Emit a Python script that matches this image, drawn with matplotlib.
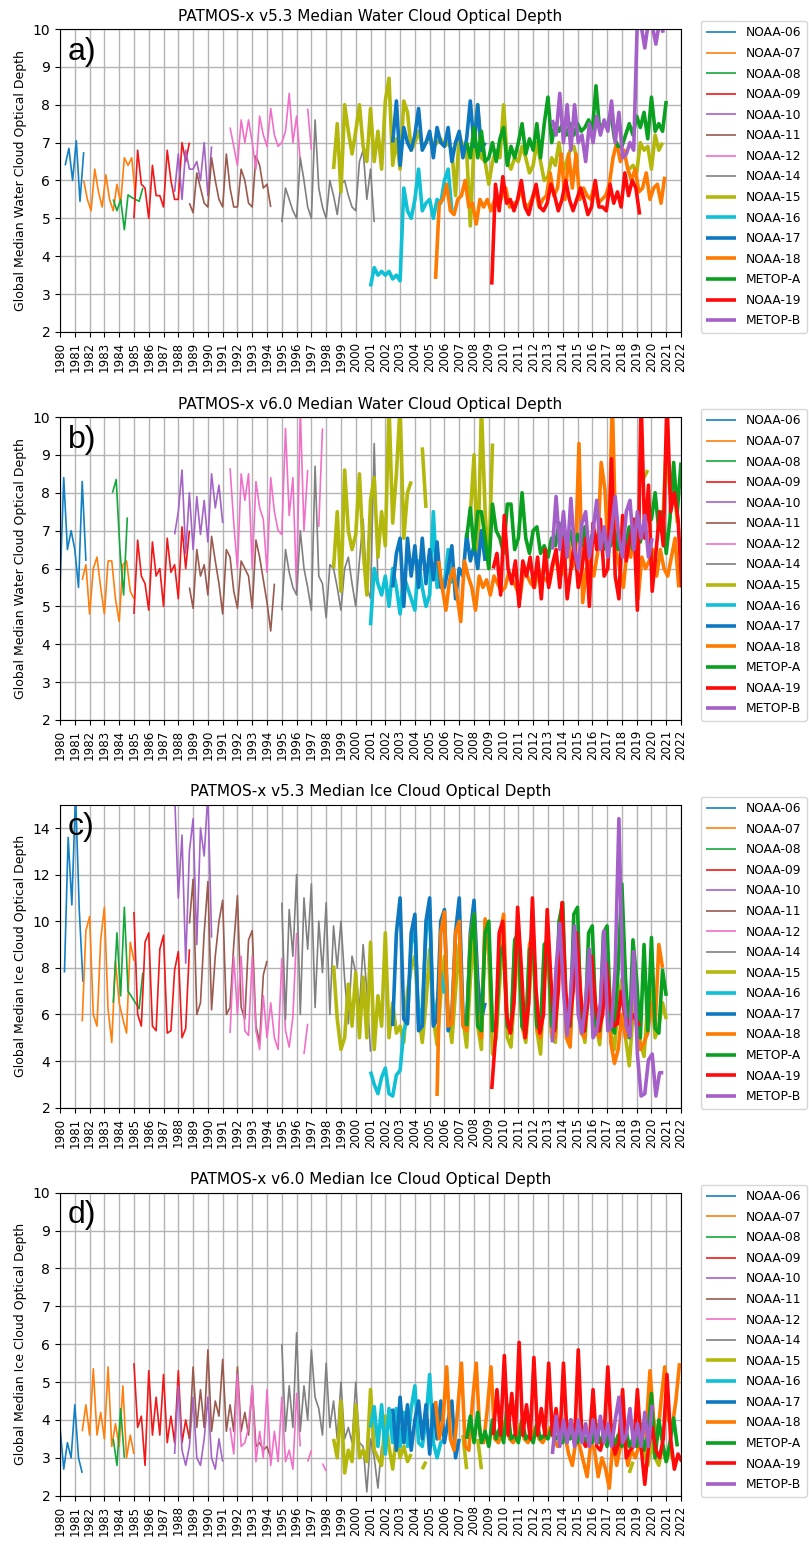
import numpy as np
import matplotlib
matplotlib.use("Agg")
import matplotlib.pyplot as plt

NaN = np.nan
STEP = 0.25  # quarterly samples (years)

SATELLITES = ["NOAA-06", "NOAA-07", "NOAA-08", "NOAA-09", "NOAA-10", "NOAA-11",
              "NOAA-12", "NOAA-14", "NOAA-15", "NOAA-16", "NOAA-17", "NOAA-18",
              "METOP-A", "NOAA-19", "METOP-B"]
YEARS = list(range(1980, 2023))
TITLES = ["PATMOS-x v5.3 Median Water Cloud Optical Depth",
          "PATMOS-x v6.0 Median Water Cloud Optical Depth",
          "PATMOS-x v5.3 Median Ice Cloud Optical Depth",
          "PATMOS-x v6.0 Median Ice Cloud Optical Depth"]
YLABELS = ["Global Median Water Cloud Optical Depth",
           "Global Median Water Cloud Optical Depth",
           "Global Median Ice Cloud Optical Depth",
           "Global Median Ice Cloud Optical Depth"]
TAGS = ["a)", "b)", "c)", "d)"]

# ---------------- panel a : v5.3 water ----------------
A_START = [1980.35, 1981.6, 1983.6, 1985.0, 1987.75, 1988.75, 1991.5, 1995.0,
           1998.5, 2001.0, 2002.5, 2005.4, 2007.5, 2009.2, 2013.3]
A_N06 = [6.4, 6.85, 6.0, 7.05, 5.45, 6.75]
A_N07 = [6.0, 5.5, 5.2, 6.3, 5.7, 5.3, 6.15, 5.5, 5.2, 5.9, 5.4, 6.6, 6.4, 6.6, 5.6]
A_N08 = [5.5, 5.2, 5.5, 4.7, 5.62, 5.55, 5.5, 5.45, 5.8]
A_N09 = [5.0, 6.8, 5.9, 5.8, 5.0, 6.4, 5.6, 5.6, 5.3, 6.8, 6.0, 5.5, 5.5, 7.0, 6.5, 7.0]
A_N10 = [5.7, 6.7, 5.5, 6.8, 6.3, 6.3, 6.5, 6.0, 7.0, 5.6, 6.9]
A_N11 = [5.4, 5.15, 6.2, 5.8, 5.4, 5.3, 6.6, 6.0, 5.5, 5.3, 6.7, 5.8, 5.3, 5.3, 6.3,
         6.0, 5.4, 5.3, 6.65, 6.4, 5.8, 5.9, 5.3]
A_N12 = [7.4, 6.9, 6.4, 7.6, 7.0, 7.6, 7.0, 6.3, 7.7, 7.2, 6.9, 7.9, 7.2, 6.9, 7.0,
         7.3, 8.3, 7.0, 7.7, 6.5, NaN, 7.9, 6.8]
A_N14 = [4.9, 5.8, 5.5, 5.2, 5.0, 6.6, 6.0, 5.3, 5.0, 7.6, 5.8, 5.3, 5.0, 6.0, 5.6,
         5.1, 5.9, 6.0, 5.6, 5.3, 5.2, 6.5, 6.8, 5.5, 6.3, 4.9]
A_N15 = ([6.3, 7.5,
          5.7, 8.0, 7.3, 6.7,  7.3, 8.0, 6.9, 6.5,  7.9, 6.5, 7.3, 6.3,
          8.1, 8.7, 6.4, 7.1,  6.3, 8.1, 7.8, 6.8,  7.0, 7.3, 6.9, 7.0,
          7.2, 6.9, 7.0, 7.1,  6.9, 7.0, 6.8, 5.6,  7.2, 6.9, 6.8, 4.8,
          7.0, 8.0, 6.6, 6.5,  5.9, 6.5, 6.8, 6.6,  8.0, 6.5, 6.3, 6.6,
          6.5, 6.9, 6.6, 6.2,  6.4, 7.0, 6.5, 6.0,  6.1, 6.6, 6.4, 7.0,
          6.2, 6.5, 6.8, 6.9,  6.5]
         + [NaN] * 13 +
         [6.3, 6.4,  6.2, 7.0, 6.8, 6.9,  6.3, 7.2, 6.8, 7.0])
A_N16 = [3.2, 3.7, 3.5, 3.6, 3.5, 3.6, 3.4, 3.5, 3.35, 5.8, 5.2, 5.0, 5.5, 6.3, 5.2,
         5.4, 5.5, 5.0, 5.5, 5.4, 6.0, 6.3, 5.2]
A_N17 = [7.0, 8.1, 6.4, 7.4, 7.0, 6.8, 7.2, 7.9, 6.8, 7.0, 7.3, 6.6, 7.4, 7.0, 6.9,
         7.4, 6.5, 7.0, 7.3, 6.6, 7.1, 8.1, 6.9, 8.0, 6.8, 7.0]
A_N18 = [3.4, 5.4, 5.5, 5.9, 5.2, 5.1, 5.5, 5.6, 6.0, 5.3, 5.4, 4.85, 5.5, 5.3, 5.5,
         5.2, 5.5, 5.3, 5.6, 5.8, 5.3, 5.4, 5.4, 5.8, 5.4, 5.3, 5.5, 5.8, 5.3, 5.5,
         5.6, 6.2, 5.6, 5.8, 6.7, 5.5, 6.7, 5.8, 6.7, 5.5, 5.8, 5.6, 5.5, 5.9, 5.4,
         5.5, 5.6, 5.9, 6.6, 7.0, 6.5, 6.8, 6.3, 6.0, 6.3, 5.7, 5.8, 6.2, 5.5, 5.8,
         5.9, 5.4, 6.1]
A_MA = [7.0, 6.6, 7.4, 6.6, 7.3, 6.5, 6.6, 7.0, 6.5, 7.1, 7.4, 6.4, 6.9, 6.6, 7.0,
        7.5, 6.7, 7.1, 6.8, 7.5, 6.6, 7.5, 8.2, 7.0, 7.5, 7.3, 7.5, 7.2, 7.5, 7.2,
        7.5, 7.3, 7.4, 7.6, 7.3, 8.5, 7.3, 7.5, 7.4, 7.8, 7.1, 6.9, 6.9, 7.2, 7.5,
        7.2, 7.7, 7.4, 7.8, 7.1, 8.2, 7.3, 7.5, 7.3, 8.1]
A_N19 = [3.25, 5.9, 5.2, 6.1, 5.4, 5.5, 5.2, 5.5, 6.0, 5.3, 5.1, 5.5, 5.9, 5.3, 5.2,
         5.4, 5.9, 5.6, 5.2, 5.5, 6.0, 5.5, 5.2, 5.5, 5.8, 5.5, 5.1, 5.3, 6.0, 5.3,
         5.3, 5.2, 5.9, 5.4, 5.7, 5.3, 6.2, 5.6, 6.0, 5.8, 5.1]
A_MB = [7.6, 7.2, 8.3, 7.0, 8.0, 6.8, 8.0, 7.0, 7.2, 6.5, 7.5, 7.0, 7.7, 7.2, 7.6,
        7.3, 8.1, 7.0, 7.8, 6.6, 6.7, 7.0, 6.8, 10.3, 10.1, 9.5, 10.2, 10.1, 9.6,
        10.2, 9.9]

# ---------------- panel b : v6.0 water ----------------
B_START = [1980.0, 1981.5, 1983.55, 1985.0, 1987.75, 1988.75, 1991.5, 1995.0,
           1998.5, 2001.0, 2002.5, 2005.6, 2007.5, 2009.3, 2013.3]
B_N06 = [5.5, 8.4, 6.5, 7.0, 6.5, 5.5, 8.3, 6.2]
B_N07 = [5.7, 6.1, 4.8, 6.0, 6.3, 5.5, 4.8, 6.2, 6.2, 5.2, 4.6, 6.1, 6.2, 5.4, 5.2]
B_N08 = [8.0, 8.35, 6.5, 5.3, 7.35]
B_N09 = [4.8, 6.75, 5.8, 5.6, 4.9, 6.7, 5.8, 6.0, 5.0, 6.8, 5.9, 6.1, 5.2, 7.1, 6.0, 7.0]
B_N10 = [6.9, 7.5, 8.6, 6.4, 8.0, 6.5, 7.9, 6.9, 7.8, 6.7, 8.5, 7.6, 8.2, 7.2]
B_N11 = [5.5, 4.95, 6.5, 5.8, 6.1, 5.3, 6.85, 6.2, 5.6, 4.8, 6.5, 6.3, 5.4, 4.95, 6.2,
         6.0, 5.8, 4.95, 6.75, 6.3, 5.7, 5.1, 4.35, 5.6]
B_N12 = [8.65, 7.2, 6.0, 8.5, 7.8, 8.5, 6.0, 8.3, 7.6, 7.3, 5.9, 8.4, 7.5, 7.0, 6.9,
         9.7, 7.4, 8.4, 5.4, 10.2, 7.0, 8.6, NaN, NaN, 7.1, 9.7]
B_N14 = [4.9, 6.5, 5.9, 5.5, 5.3, 7.0, 6.0, 5.5, 4.9, 8.7, 5.8, 5.6, 4.7, 6.1, 6.0,
         5.5, 4.9, 6.0, 6.3, 5.6, 5.0, 6.2, 7.3, 5.5, 5.2, 9.3, 5.6]
B_N15 = ([6.0, 7.5,
          5.4, 8.6, 7.0, 6.5,  6.9, 8.5, 6.5, 5.3,  7.8, 8.4, 6.3, 7.5,
          6.6, 10.3, 7.2, 8.5,  10.3, 6.8, 8.0, 8.3,  NaN, NaN, 9.2, 7.6]
         + [NaN] * 11 +
         [7.4,  9.0, 6.0, 10.3, 7.5,  6.0, 9.3]
         + [NaN] * 40 +
         [8.4, 8.6,  NaN, NaN, NaN, 7.0,  9.3, 8.0, 8.3, 7.2])
B_N16 = [4.5, 6.0, 5.6, 5.3, 5.8, 5.0, 6.0, 5.5, 4.8, 5.8, 5.5, 5.2, 4.9, 6.2, 5.5,
         5.0, 5.3, 7.5, 5.5, 5.7, 5.6, 6.5, 5.6]
B_N17 = [5.5, 6.4, 6.8, 5.0, 6.8, 5.8, 6.6, 5.5, 6.8, 5.6, 6.5, 5.7, 6.7, 5.5, 5.5,
         6.0, 6.6, 5.2, 6.0, 5.8, 6.9, 6.2, 6.6, 6.0, 7.0, 6.2]
B_N18 = [6.2, 5.5, 4.9, 5.7, 6.0, 5.3, 4.6, 6.2, 5.8, 5.5, 4.9, 5.8, 5.5, 5.7, 5.3,
         5.8, 5.6, 5.4, 5.5, 5.9, 5.7, 5.5, 5.2, 5.9, 5.8, 5.6, 5.5, 6.0, 5.8, 5.7,
         5.6, 6.1, 6.2, 5.8, 6.0, 6.9, 6.0, 6.2, 9.3, 5.1, 6.0, 6.2, 5.8, 6.4, 8.8,
         8.1, 6.3, 10.5, 6.5, 6.0, 5.5, 6.5, 6.3, 7.3, 5.2, 6.3, 6.0, 6.2, 6.5, 5.8,
         6.5, 6.0, 5.8, 6.3, 6.8, 5.5]
B_MA = [6.8, 7.6, 6.5, 7.5, 7.5, 6.8, 6.0, 7.7, 7.0, 6.8, 6.4, 7.7, 7.7, 6.5, 6.8,
        8.0, 6.8, 6.4, 7.0, 7.1, 6.4, 6.6, 6.3, 6.8, 6.6, 7.2, 6.8, 6.6, 7.0, 6.5,
        6.9, 6.6, 7.1, 6.5, 6.9, 6.7, 7.0, 6.5, 6.8, 6.6, 7.0, 6.5, 6.9, 6.6, 7.1,
        6.5, 7.0, 6.7, 7.2, 7.5, 7.3, 8.0, 7.0, 7.5, 6.4, 7.3, 8.8, 7.5, 8.8]
B_N19 = [6.0, 6.4, 5.3, 7.4, 6.0, 5.6, 6.2, 5.0, 6.2, 5.8, 6.3, 5.5, 6.3, 5.2, 6.5,
         5.5, 6.1, 6.5, 5.5, 6.8, 5.2, 6.0, 6.7, 5.5, 6.0, 6.8, 5.0, 7.2, 6.5, 7.3,
         5.8, 6.0, 8.9, 5.8, 5.2, 7.4, 6.2, 6.8, 7.3, 4.9, 10.5, 6.8, 8.2, 5.4, 6.4,
         7.5, 6.6, 10.5, 7.5, 8.0, 7.3, 5.5]
B_MB = [6.5, 7.9, 6.5, 7.5, 6.3, 7.85, 6.5, 6.0, 7.2, 7.5, 6.3, 7.0, 7.8, 6.5, 7.1,
        6.3, 7.0, 7.9, 6.8, 6.3, 7.5, 7.8, 6.5, 7.5, 6.8, 7.4, 6.3, 6.8]

# ---------------- panel c : v5.3 ice ----------------
C_START = [1980.3, 1981.5, 1983.6, 1985.0, 1987.75, 1988.75, 1991.5, 1995.0,
           1998.5, 2001.0, 2002.5, 2005.5, 2007.5, 2009.2, 2013.3]
C_N06 = [7.8, 13.6, 10.7, 15.5, 10.5, 7.4]
C_N07 = [5.7, 9.6, 10.2, 6.0, 5.5, 9.2, 10.6, 6.2, 4.8, 8.3, 6.5, 5.8, 5.2, 9.1, 8.3]
C_N08 = [6.5, 9.5, 6.8, 10.6, 7.0, 6.75, 6.5, 6.25, 7.8]
C_N09 = [10.4, 6.0, 5.5, 9.1, 9.5, 5.5, 5.3, 8.8, 9.4, 5.2, 5.3, 7.9, 8.7, 5.0, 5.4, 8.8]
C_N10 = [15.5, 11.0, 13.7, 8.2, 13.0, 14.4, 9.0, 14.0, 12.8, 15.5, 9.3]
C_N11 = [9.9, 11.8, 6.0, 6.5, 9.5, 11.7, 6.2, 8.5, 10.0, 10.9, 6.0, 6.3, 9.0, 11.1,
         6.3, 5.8, 9.2, 9.6, 5.5, 4.8, 7.7, 8.3]
C_N12 = [5.2, 8.5, 6.0, 8.5, 5.3, 5.1, 8.5, 5.3, 4.5, 6.8, 5.0, 6.5, 5.0, 4.5, 8.4,
         5.3, 4.6, 5.9, 9.5, NaN, 4.3, 5.6]
C_N14 = [10.8, 5.8, 10.5, 8.5, 12.0, 6.0, 11.0, 8.8, 11.6, 6.3, 10.0, 7.8, 10.8, 6.0,
         9.8, 8.0, 10.0, 7.5, 5.6, 8.5, 7.8, 6.2, 9.0, 7.0, 4.4]
C_N15 = [8.1, 5.8,
         4.5, 5.0, 7.3, 5.5,  7.8, 5.0, 7.6, 5.0,  9.1, 4.5, 6.8, 5.5,
         9.5, 5.0, 6.5, 5.2,  5.5, 4.8, 7.0, 8.0,  8.5, 6.0, 4.8, 6.5,
         8.8, 5.8, 4.7, 6.8,  8.5, 6.0, 4.8, 7.0,  9.0, 5.8, 4.6, 7.5,
         9.5, 5.5, 4.5, 10.0, 8.5, 4.3, 5.0, 7.5,  9.3, 5.0, 4.6, 7.0,
         9.0, 5.5, 4.8, 7.0,  9.3, 5.3, 4.3, 7.5,  9.0, 5.0, 4.8, 8.5,
         9.0, 5.2, 4.8, 8.0,  8.8, 5.5, 4.8, 7.5,  8.5, 5.5, 4.7, 7.0,
         8.0, 5.2, 4.5, 6.5,  7.5, 5.0, 3.8, 6.0,  7.0, 4.8, 4.2, 6.5,
         7.0, 5.0, 5.5, 6.5,  5.8]
C_N16 = [3.55, 3.0, 2.6, 3.3, 3.7, 2.6, 2.5, 3.4, 3.6, 5.3, 5.8, 9.0, 9.8, 5.6, 6.3,
         9.5, 10.5, 5.6, 6.5, 7.8, 6.9]
C_N17 = [5.5, 9.5, 11.0, 5.8, 5.6, 9.5, 10.3, 5.3, 5.5, 10.0, 11.0, 5.5, 5.8, 10.0,
         10.5, 5.3, 6.0, 9.5, 11.0, 6.0, 5.5, 9.5, 10.9, 7.5, 5.8, 6.5]
C_N18 = [2.5, 9.5, 10.4, 5.5, 5.6, 9.5, 10.0, 5.5, 5.3, 9.2, 10.3, 6.0, 5.0, 10.1,
         9.0, 5.5, 5.3, 9.4, 10.3, 5.5, 5.2, 9.0, 9.5, 5.5, 5.0, 9.0, 9.5, 5.4, 5.0,
         8.5, 9.0, 5.2, 5.0, 9.0, 9.2, 5.0, 4.6, 8.8, 9.0, 5.2, 5.0, 8.3, 8.5, 5.3,
         5.0, 7.5, 8.0, 4.8, 3.9, 4.5, 6.0, 5.0, 5.5, 6.0, 5.5, 4.5, 4.8, 5.2, 6.5,
         5.5, 9.0, 8.0]
C_MA = [5.5, 9.0, 10.3, 5.5, 5.3, 9.5, 10.0, 5.3, 5.5, 8.5, 9.0, 5.5, 5.3, 9.2, 9.5,
        5.5, 5.2, 8.8, 9.0, 5.5, 5.3, 9.0, 9.2, 5.5, 5.4, 10.0, 10.8, 5.8, 5.5, 10.3,
        10.6, 5.5, 5.3, 9.5, 9.8, 5.5, 5.3, 9.5, 9.8, 5.5, 5.2, 8.0, 11.6, 7.5, 5.0,
        9.2, 7.5, 5.0, 9.0, 5.3, 9.3, 5.4, 5.2, 7.9, 6.8]
C_N19 = [2.8, 5.0, 9.5, 10.0, 6.0, 5.2, 6.5, 10.6, 8.0, 5.0, 6.5, 11.0, 7.0, 5.2,
         6.0, 10.5, 7.5, 5.3, 7.0, 10.8, 7.0, 5.5, 7.0, 9.5, 7.0, 5.3, 6.5, 8.5, 6.5,
         5.3, 6.0, 8.2, 6.5, 5.5, 5.6, 7.0, 6.0, 5.5, 6.0, 5.8, 5.5]
C_MB = [4.8, 8.0, 9.9, 7.0, 5.1, 7.0, 9.8, 6.0, 5.2, 6.5, 8.8, 5.0, 5.3, 6.5, 9.6,
        5.3, 5.5, 8.0, 14.4, 7.5, 5.5, 5.05, 8.7, 4.3, 2.5, 2.6, 4.05, 4.3, 2.5, 3.5,
        3.5]

# ---------------- panel d : v6.0 ice ----------------
D_START = [1980.0, 1981.5, 1983.6, 1985.0, 1987.75, 1988.75, 1991.5, 1995.0,
           1998.5, 2001.0, 2002.5, 2005.4, 2007.5, 2009.3, 2013.3]
D_N06 = [3.8, 2.7, 3.4, 3.0, 4.4, 3.0, 2.6]
D_N07 = [3.7, 4.4, 3.6, 5.35, 3.6, 4.2, 3.5, 5.4, 3.3, 3.9, 3.3, 4.9, 3.0, 3.6, 3.1]
D_N08 = [3.5, 2.8, 4.3, 3.0]
D_N09 = [5.5, 3.8, 4.1, 2.8, 5.3, 3.6, 4.6, 3.6, 5.2, 3.4, 4.1, 3.4, 5.3, 3.4, 4.0, 3.5]
D_N10 = [3.1, 4.9, 3.2, 2.8, 3.3, 4.6, 3.0, 2.8, 3.5, 4.6, 3.0, 2.7, 3.5, 2.9]
D_N11 = [3.5, 5.4, 3.8, 4.8, 3.8, 5.85, 3.7, 4.5, 4.1, 5.6, 3.7, 4.4, 3.7, 5.4, 3.7,
         4.2, 3.6, 4.9, 3.3, 3.4, 3.2, 3.3, 3.0]
D_N12 = [3.8, 3.1, 5.2, 3.3, 3.4, 3.8, 4.9, 2.9, 3.7, 3.0, 4.8, 2.8, 3.7, 2.9, 4.6,
         2.9, 3.2, 2.7, 4.7, 3.3, NaN, 2.9, 3.2, NaN, NaN, 2.85, 2.65]
D_N14 = [6.0, 3.7, 4.9, 3.8, 6.3, 3.7, 4.9, 4.0, 5.85, 4.6, 4.3, 3.6, 5.5, 3.8, 4.5,
         3.5, 5.0, 3.5, 3.8, 3.4, 5.0, 3.4, 3.3, 2.1, 3.5, 3.0, 2.2, 3.3]
D_N15 = ([3.5, 3.0,
          4.5, 2.6, 3.2, 2.9,  4.4, 3.0, 3.2, 2.9,  4.8, 3.2, 3.0, 2.8,
          4.1, 3.3, 2.7, 3.6,  3.0, 3.3, 2.9, 3.1,  NaN, NaN, 2.7, 2.9]
         + [NaN] * 9 +
         [3.6, 2.7, NaN, NaN, 3.5, 2.7]
         + [NaN] * 39 +
         [2.6, 2.9, NaN, NaN, 3.2, 2.8, 3.4, 3.0, 2.8, 3.3, 2.9, 3.2, 2.9])
D_N16 = [3.8, 4.35, 3.3, 4.4, 3.1, 4.3, 3.4, 4.3, 3.3, 4.2, 3.3, 4.3, 4.9, 3.4, 3.3,
         4.0, 5.2, 3.4, 3.0, 3.4, 3.5]
D_N17 = [4.3, 3.2, 4.6, 3.4, 4.4, 3.2, 4.0, 4.5, 3.5, 4.4, 3.1, 4.4, 3.5, 4.5, 3.4,
         4.0, 4.5, 3.0, 3.5]
D_N18 = [4.5, 3.5, 4.0, 5.4, 3.5, 3.2, 4.3, 5.5, 3.3, 3.2, 4.5, 5.5, 3.6, 3.4, 4.3,
         5.4, 3.5, 3.4, 3.7, 4.0, 3.5, 3.4, 3.6, 3.9, 3.5, 3.4, 3.6, 3.8, 3.5, 3.4,
         3.6, 3.8, 3.5, 3.3, 3.5, 3.6, 3.1, 2.8, 3.5, 3.3, 2.9, 2.5, 3.4, 3.2, 2.5,
         3.0, 2.7, 2.2, 3.5, 2.8, 3.3, 3.5, 2.8, 3.2, 3.0, 3.3, 3.5, 3.8, 5.3, 4.0,
         3.5, 4.5, 5.4, 4.0, 3.8, 4.5, 5.5]
D_MA = [3.5, 4.1, 3.4, 4.2, 3.4, 3.7, 3.3, 4.0, 3.5, 3.8, 3.4, 4.4, 3.5, 3.6, 3.4,
        4.0, 3.5, 3.6, 3.4, 3.9, 3.5, 3.6, 3.5, 3.8, 3.5, 3.6, 3.4, 3.9, 3.5, 3.6,
        3.4, 3.9, 3.4, 3.6, 3.4, 3.9, 3.4, 3.6, 3.3, 3.9, 3.3, 3.6, 3.3, 3.8, 3.3,
        3.5, 3.3, 3.9, 3.2, 3.6, 4.7, 3.0, 4.0, 3.4, 2.9, 3.4, 4.05, 3.3]
D_N19 = [3.6, 4.8, 3.6, 5.7, 3.6, 4.7, 3.6, 6.05, 3.6, 4.4, 3.5, 5.65, 3.6, 4.3, 3.6,
         5.5, 3.6, 4.3, 3.4, 5.5, 3.5, 4.0, 3.4, 5.85, 3.5, 3.3, 3.4, 4.8, 3.3, 3.2,
         3.6, 5.4, 3.5, 3.1, 3.4, 4.8, 3.0, 3.2, 3.3, 4.8, 3.3, 2.3, 3.3, 3.8, 3.2,
         3.0, 3.5, 5.2, 3.5, 2.7, 3.1, 2.9]
D_MB = [3.1, 4.1, 3.3, 4.0, 3.4, 4.0, 3.3, 4.0, 3.4, 3.9, 3.3, 4.0, 3.4, 4.1, 3.4,
        3.9, 3.3, 4.0, 4.6, 3.4, 3.6, 4.3, 3.3, 3.9, 3.3, 4.2, 3.3, 4.4]

PANELS = [
    (A_START, [A_N06, A_N07, A_N08, A_N09, A_N10, A_N11, A_N12, A_N14, A_N15,
               A_N16, A_N17, A_N18, A_MA, A_N19, A_MB]),
    (B_START, [B_N06, B_N07, B_N08, B_N09, B_N10, B_N11, B_N12, B_N14, B_N15,
               B_N16, B_N17, B_N18, B_MA, B_N19, B_MB]),
    (C_START, [C_N06, C_N07, C_N08, C_N09, C_N10, C_N11, C_N12, C_N14, C_N15,
               C_N16, C_N17, C_N18, C_MA, C_N19, C_MB]),
    (D_START, [D_N06, D_N07, D_N08, D_N09, D_N10, D_N11, D_N12, D_N14, D_N15,
               D_N16, D_N17, D_N18, D_MA, D_N19, D_MB]),
]
YLIMS = [(2, 10), (2, 10), (2, 15), (2, 10)]
YTICKS = [list(range(2, 11)), list(range(2, 11)), list(range(2, 15, 2)), list(range(2, 11))]

# ---------------- styling ----------------
COLORS = ["#1380c4", "#ff7f0e", "#14a83a", "#f01818", "#a463c6", "#9a5a4e",
          "#f070c8", "#808080", "#b5b80c", "#10c0d4", "#0d78c0", "#ff7a00",
          "#0aa020", "#ff0a0a", "#a460c8"]
LWS = [1.2] * 8 + [2.6] * 7

BOTTOMS = [0.7850, 0.5337, 0.2826, 0.0313]
LEFT, WIDTH, HEIGHT = 0.0742, 0.7676, 0.1962

fig = plt.figure(figsize=(8.09, 15.44), dpi=100)
for p, (starts, series) in enumerate(PANELS):
    ax = fig.add_axes([LEFT, BOTTOMS[p], WIDTH, HEIGHT])
    for i, vals in enumerate(series):
        v = np.asarray(vals, dtype=float)
        t = starts[i] + STEP * np.arange(len(v))
        ax.plot(t, v, color=COLORS[i], lw=LWS[i], label=SATELLITES[i],
                solid_capstyle="butt")
    ax.set_xlim(1980, 2022)
    ax.set_ylim(*YLIMS[p])
    ax.set_xticks(YEARS)
    ax.set_xticklabels([str(y) for y in YEARS], rotation=90, fontsize=8.6)
    ax.set_yticks(YTICKS[p])
    ax.tick_params(axis="y", labelsize=10)
    ax.grid(True, color="#b4b4b4", lw=1.0)
    ax.set_axisbelow(True)
    ax.set_title(TITLES[p], fontsize=11, pad=6)
    ax.set_ylabel(YLABELS[p], fontsize=9)
    ax.text(0.012, 0.975, TAGS[p], transform=ax.transAxes, ha="left", va="top",
            fontsize=23, family=["Liberation Sans", "DejaVu Sans"])
    ax.legend(loc="upper left", bbox_to_anchor=(1.032, 1.027), borderaxespad=0,
              fontsize=8.8, labelspacing=0.62, handlelength=2.4,
              borderpad=0.45, handletextpad=0.8)

fig.savefig("out.png", dpi=100)
